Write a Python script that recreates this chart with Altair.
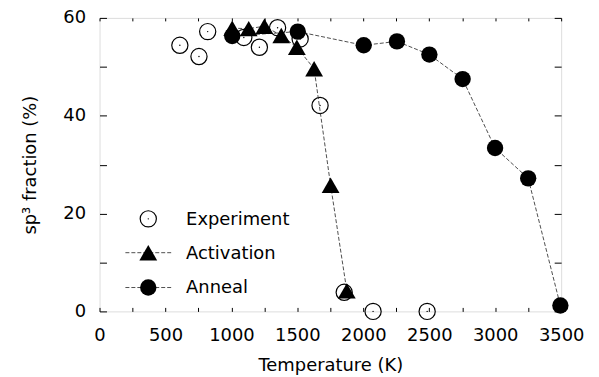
import altair as alt
import pandas as pd

# ---- data ----
exp_T = [609, 754, 820, 1094, 1212, 1350, 1521, 1672, 1855, 2074, 2484]
exp_v = [54.4, 52.1, 57.2, 56.0, 54.0, 58.0, 55.7, 42.1, 3.9, 0.0, 0.0]

act_T = [1006, 1131, 1250, 1378, 1496, 1627, 1752, 1875]
act_v = [57.9, 57.8, 58.3, 56.4, 54.0, 49.6, 25.8, 4.2]

ann_T = [1006, 1503, 2003, 2255, 2501, 2753, 2999, 3250, 3494]
ann_v = [56.3, 57.2, 54.4, 55.2, 52.5, 47.5, 33.4, 27.2, 1.2]

x_ticks = [0, 250, 500, 750, 1000, 1250, 1500, 1750, 2000, 2250, 2500, 2750, 3000, 3250, 3500]
y_ticks = [0, 10, 20, 30, 40, 50, 60]

legend_labels = ["Experiment", "Activation", "Anneal"]

FONT = "DejaVu Sans"
FS = 18

exp_df = pd.DataFrame({"T": exp_T, "v": exp_v})
act_df = pd.DataFrame({"T": act_T, "v": act_v})
ann_df = pd.DataFrame({"T": ann_T, "v": ann_v})

xscale = alt.Scale(domain=[0, 3500], nice=False, zero=False)
yscale = alt.Scale(domain=[0, 60], nice=False, zero=False)

x_main = alt.X("T:Q", scale=xscale, title="Temperature (K)",
               axis=alt.Axis(orient="bottom", values=x_ticks, offset=-4, tickSize=4,
                             domain=False, grid=False, labelPadding=15, format="d",
                             labelExpr="datum.value % 500 == 0 ? datum.label : ''",
                             labelFont=FONT, labelFontSize=FS, labelColor="black",
                             titleFont=FONT, titleFontSize=FS, titleFontWeight="normal",
                             titleColor="black", titlePadding=12, tickColor="black",
                             labelOverlap=False, labelFlush=False))
y_main = alt.Y("v:Q", scale=yscale, title="sp³ fraction (%)",
               axis=alt.Axis(orient="left", values=y_ticks, offset=-7, tickSize=7,
                             domain=False, grid=False, labelPadding=14, format="d",
                             labelExpr="datum.value % 20 == 0 ? datum.label : ''",
                             labelFont=FONT, labelFontSize=FS, labelColor="black",
                             titleFont=FONT, titleFontSize=FS, titleFontWeight="normal",
                             titleColor="black", titlePadding=23, tickColor="black",
                             labelOverlap=False, labelFlush=False))

x_plain = alt.X("T:Q", scale=xscale, axis=None)
y_plain = alt.Y("v:Q", scale=yscale, axis=None)

exp_layer = alt.Chart(exp_df).mark_point(
    shape="circle", filled=False, stroke="black", strokeWidth=1.2, size=265, opacity=1, clip=False
).encode(x=x_main, y=y_main)

exp_dot = alt.Chart(exp_df).mark_point(
    shape="circle", filled=True, color="black", size=2, opacity=1, clip=False
).encode(x=x_plain, y=y_plain)

line_style = dict(color="#222222", strokeWidth=0.8, strokeDash=[4, 2], clip=False)
act_line = alt.Chart(act_df).mark_line(**line_style).encode(x=x_plain, y=y_plain)
ann_line = alt.Chart(ann_df).mark_line(**line_style).encode(x=x_plain, y=y_plain)

act_pts = alt.Chart(act_df).mark_point(
    shape="triangle-up", filled=True, color="black", size=320, opacity=1, clip=False
).encode(x=x_plain, y=y_plain)

ann_pts = alt.Chart(ann_df).mark_point(
    shape="circle", filled=True, color="black", size=270, opacity=1, clip=False
).encode(x=x_plain, y=y_plain)

# mirrored inward ticks on the top and right
mirror = alt.Chart(ann_df).mark_point(opacity=0).encode(
    x=alt.X("T:Q", scale=xscale, title=None,
            axis=alt.Axis(orient="top", values=x_ticks, offset=-3, tickSize=3,
                          domain=False, grid=False, labels=False, tickColor="black")),
    y=alt.Y("v:Q", scale=yscale, title=None,
            axis=alt.Axis(orient="right", values=y_ticks, offset=-7, tickSize=7,
                          domain=False, grid=False, labels=False, tickColor="black")),
)

# ---- legend (drawn in pixel space inside the plot) ----
leg_rows_y = [202, 236, 271]
sym_x = 49
text_x = 87
leg_layers = []
for i, lab in enumerate(legend_labels):
    df = pd.DataFrame({"label": [lab]})
    yy = leg_rows_y[i]
    if i > 0:
        leg_layers.append(alt.Chart(df).mark_rule(**line_style).encode(
            x=alt.value(26), x2=alt.value(72), y=alt.value(yy)))
    if i == 0:
        leg_layers.append(alt.Chart(df).mark_point(
            shape="circle", filled=False, stroke="black", strokeWidth=1.2, size=265, opacity=1
        ).encode(x=alt.value(sym_x), y=alt.value(yy)))
        leg_layers.append(alt.Chart(df).mark_point(
            shape="circle", filled=True, color="black", size=2, opacity=1
        ).encode(x=alt.value(sym_x), y=alt.value(yy)))
    elif i == 1:
        leg_layers.append(alt.Chart(df).mark_point(
            shape="triangle-up", filled=True, color="black", size=320, opacity=1
        ).encode(x=alt.value(sym_x), y=alt.value(yy)))
    else:
        leg_layers.append(alt.Chart(df).mark_point(
            shape="circle", filled=True, color="black", size=270, opacity=1
        ).encode(x=alt.value(sym_x), y=alt.value(yy)))
    leg_layers.append(alt.Chart(df).mark_text(
        align="left", baseline="middle", font=FONT, fontSize=FS, color="black"
    ).encode(x=alt.value(text_x), y=alt.value(yy + 1), text="label:N"))

chart = alt.layer(
    exp_layer, exp_dot, mirror, act_line, ann_line, act_pts, ann_pts, *leg_layers
).properties(
    width=464, height=295,
    autosize=alt.AutoSizeParams(type="none"),
    padding={"left": 92, "top": 9, "right": 30, "bottom": 68},
).configure_view(
    stroke="black", strokeWidth=1.3
).configure(background="white")

chart.save("out.html", embed_options={"renderer": "svg", "actions": False})
